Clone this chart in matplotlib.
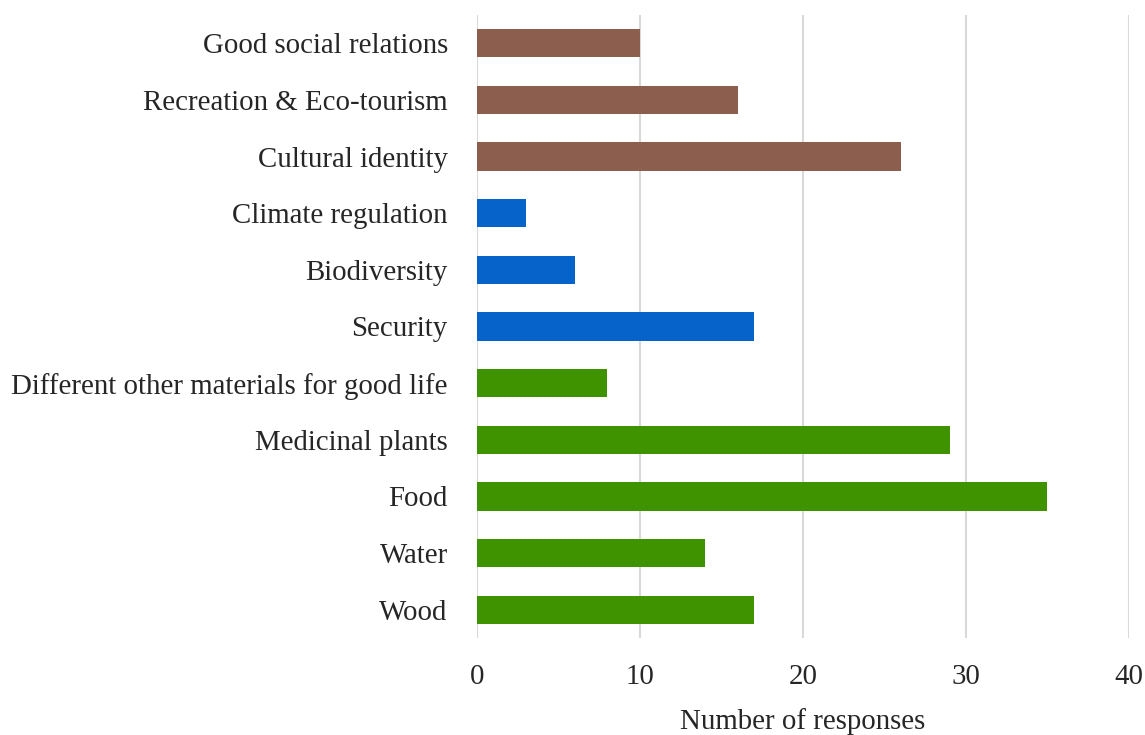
import matplotlib.pyplot as plt

# bottom to top, as drawn
categories = ['Wood', 'Water', 'Food', 'Medicinal plants',
              'Different other materials for good life',
              'Security', 'Biodiversity', 'Climate regulation',
              'Cultural identity', 'Recreation & Eco-tourism',
              'Good social relations']
responses = [17, 14, 35, 29, 8, 17, 6, 3, 26, 16, 10]
groups = ['prov'] * 5 + ['reg'] * 3 + ['cult'] * 3
group_colors = {'prov': '#3F9300', 'reg': '#0563C9', 'cult': '#8B5E4E'}
xticks = [0, 10, 20, 30, 40]

plt.rcParams['font.family'] = ['Liberation Serif', 'DejaVu Serif']

fig = plt.figure(figsize=(11.45, 7.35), dpi=100)
ax = fig.add_axes([0.4166, 0.132, 0.986 - 0.4166, 0.9796 - 0.132])

ax.barh(range(len(categories)), responses, height=0.5,
        color=[group_colors[g] for g in groups], zorder=3)

ax.set_xlim(0, 40)
ax.set_ylim(-0.5, len(categories) - 0.5)
ax.set_xticks(xticks)
ax.set_yticks(range(len(categories)))
ax.set_yticklabels(categories)
ax.tick_params(axis='both', length=0, labelsize=20.8, colors='#262626')
ax.tick_params(axis='y', pad=21)
ax.tick_params(axis='x', pad=19)
ax.grid(axis='x', color='#D9D9D9', linewidth=1.5, zorder=0)
for s in ax.spines.values():
    s.set_visible(False)

ax.set_xlabel('Number of responses', fontsize=20.8, color='#262626', labelpad=13)

fig.savefig('out.png', dpi=100)
